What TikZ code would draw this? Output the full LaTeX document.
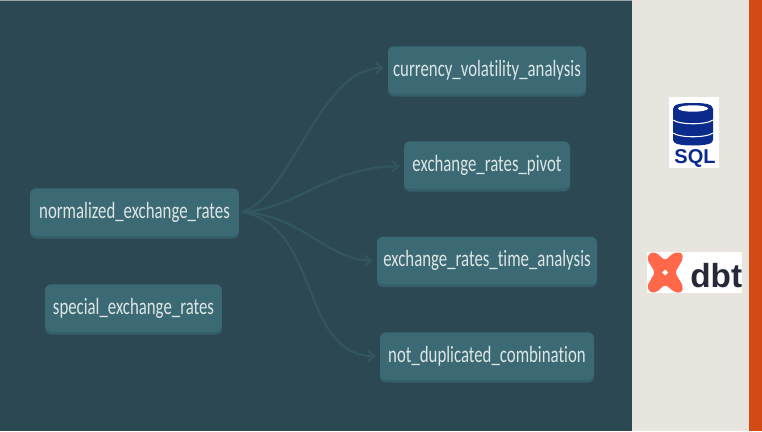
\documentclass[tikz,border=0pt]{standalone}
\usepackage{fontspec}
\setmainfont[FakeStretch=0.72,Ligatures=NoCommon]{Carlito}
\usetikzlibrary{shadows,arrows.meta,positioning}
\definecolor{bgdark}{HTML}{2C4953}
\definecolor{boxfill}{HTML}{3B6A75}
\definecolor{boxshadow}{HTML}{33606A}
\definecolor{edgecol}{HTML}{32565F}
\definecolor{panel}{HTML}{E8E4DE}
\definecolor{stripe}{HTML}{D34A14}
\definecolor{boxtext}{HTML}{DDE5E5}
\definecolor{sqlblue}{HTML}{0A2A8C}
\definecolor{dbtcoral}{HTML}{FF694A}
\definecolor{dbtdark}{HTML}{262A38}
\tikzset{
  x=0.75pt,y=-0.75pt,
  modelbox/.style={rectangle,rounded corners=4.5pt,fill=boxfill,text=boxtext,inner sep=0pt,
    font=\fontsize{17.5pt}{18pt}\selectfont,minimum height=35.5pt,text height=12pt,text depth=2.4pt,
    general shadow={fill=boxshadow,shadow yshift=-2.2pt}},
  flow/.style={draw=edgecol,line width=1.6pt,-{Straight Barb[length=5pt,width=8pt,line width=1.4pt]}},
}
\begin{document}
\begin{tikzpicture}
\useasboundingbox (0,0) rectangle (762,431);
\fill[bgdark] (0,0) rectangle (632,431);
\fill[panel] (632,0) rectangle (749,431);
\fill[stripe] (749,0) rectangle (762,431);
\fill[panel!60!bgdark] (0,0) rectangle (632,1);
% nodes
\node[modelbox,minimum width=156.5pt] (norm) at (134.5,212) {normalized\_exchange\_rates};
\node[modelbox,minimum width=132.5pt] (spec) at (133.5,308) {special\_exchange\_rates};
\node[modelbox,minimum width=148.5pt] (curr) at (487,70) {currency\_volatility\_analysis};
\node[modelbox,minimum width=124.5pt] (pivot) at (487,165) {exchange\_rates\_pivot};
\node[modelbox,minimum width=165pt] (time) at (487,260.5) {exchange\_rates\_time\_analysis};
\node[modelbox,minimum width=160.5pt] (dup) at (487,356) {not\_duplicated\_combination};
% connectors
\coordinate (hub) at ([xshift=2pt]norm.east);
\coordinate (tc) at ([xshift=-3pt,yshift=1.5pt]curr.west);
\coordinate (tp) at ([xshift=-3pt,yshift=-1pt]pivot.west);
\coordinate (tt) at ([xshift=-3pt]time.west);
\coordinate (td) at ([xshift=-3pt]dup.west);
\draw[flow] (hub) .. controls +(50,-15) and +(-65,0) .. (tc);
\draw[flow] (hub) .. controls +(55,-3) and +(-70,0) .. (tp);
\draw[flow] (hub) .. controls +(60,3) and +(-45,0) .. (tt);
\draw[flow] (hub) .. controls +(79,13) and +(-76,0) .. (td);
% SQL logo
\fill[white] (669,97) rectangle (719,168);
\fill[sqlblue] (673,109) -- (673,140) .. controls (673,144) and (681,145.5) .. (693,145.5)
   .. controls (705,145.5) and (713,144) .. (713,140) -- (713,109)
   .. controls (713,104) and (705,103) .. (693,103) .. controls (681,103) and (673,104) .. (673,109) -- cycle;
\fill[white] (693,108.5) ellipse [x radius=15, y radius=3.2];
\draw[white,line width=0.8pt] (673,120) .. controls (680,125) and (706,125) .. (713,120);
\draw[white,line width=0.8pt] (673,133) .. controls (680,138) and (706,138) .. (713,133);
\node[text=sqlblue,inner sep=0pt,anchor=base,font={\fontspec{Liberation Sans}\bfseries\fontsize{15pt}{16pt}\selectfont}] (sqltext) at (695,163) {SQL};
% dbt logo
\fill[white] (647,252) rectangle (742,293);
\fill[dbtcoral,rounded corners=2.2pt] (650,252.5) -- (656,252.5) -- (665,260.5) -- (674,252.5) -- (682,252.5) -- (683,259)
  -- (675,272.5) -- (683,286) -- (682,292.5) -- (675,292.5) -- (665,284.5) -- (656,292.5) -- (650,292.5) -- (647,286)
  -- (655,272.5) -- (647,259) -- cycle;
\fill[white] (665,269.5) -- (668,272.5) -- (665,275.5) -- (662,272.5) -- cycle;
\node[text=dbtdark,inner sep=0pt,anchor=base west,font={\fontspec{Liberation Sans}\bfseries\fontsize{25pt}{28pt}\selectfont}] (dbttext) at (690,287) {dbt};
\end{tikzpicture}
\end{document}
